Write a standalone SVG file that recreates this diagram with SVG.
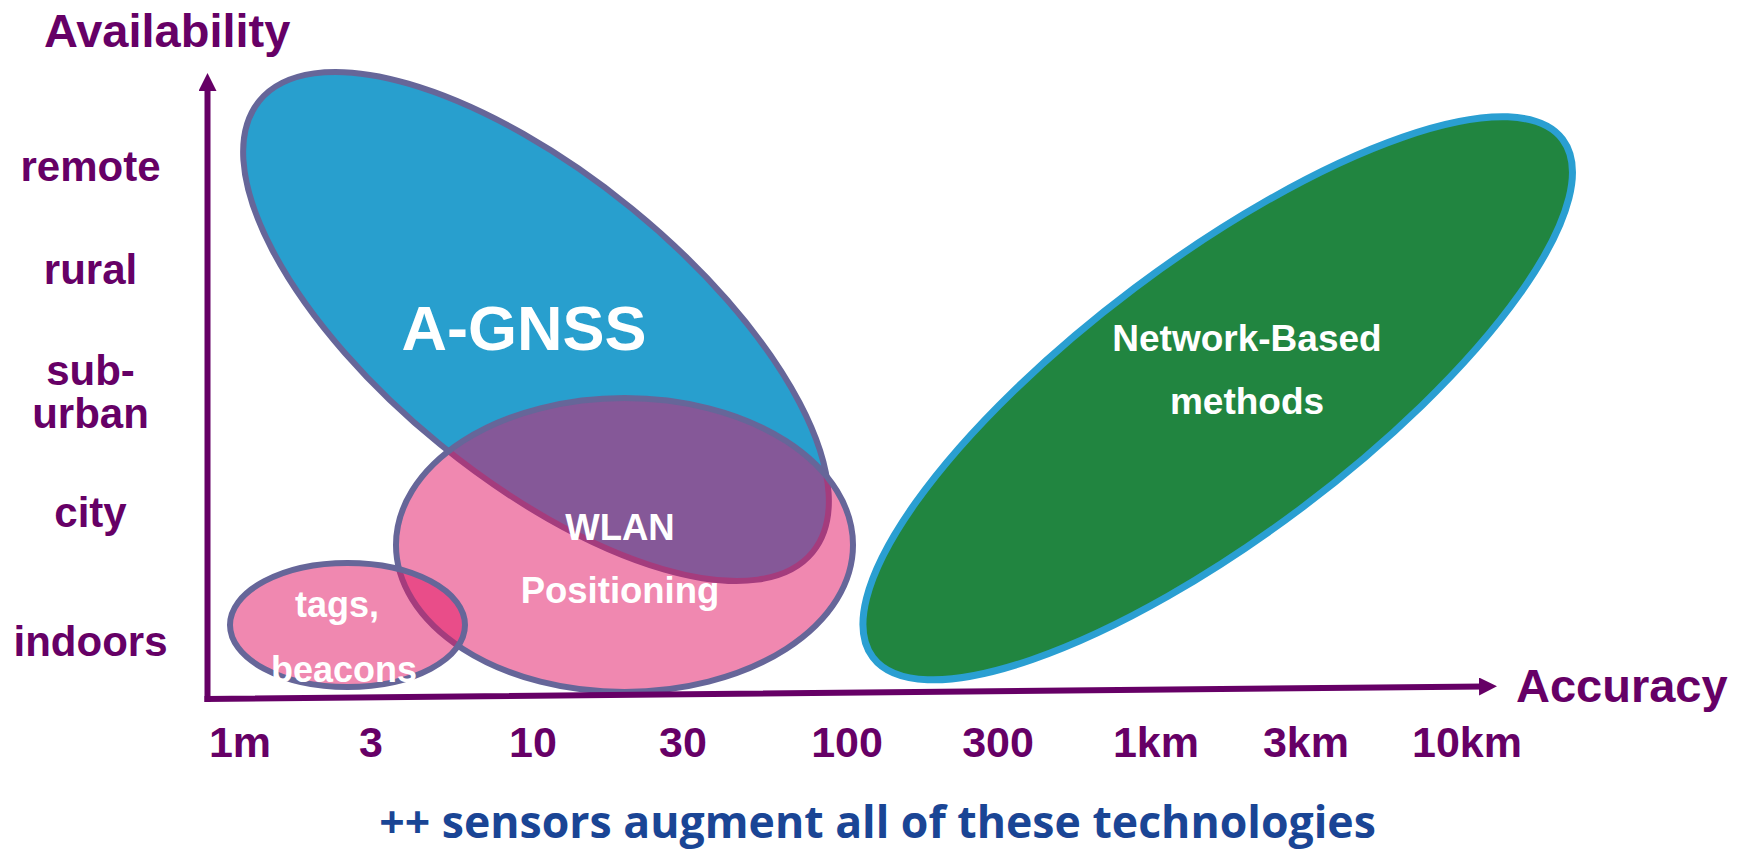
<svg xmlns="http://www.w3.org/2000/svg" width="1745" height="851" viewBox="0 0 1745 851">
  <style>
    .axis { fill: none; stroke: #660066; stroke-width: 6; stroke-linecap: square; }
    .axis-label { font-family: "Liberation Sans", Arial, sans-serif; font-weight: bold; fill: #660066; }
    .tick { font-size: 43px; text-anchor: middle; }
    .level { font-size: 42px; text-anchor: middle; }
    .title { font-size: 47px; }
    .inner { font-family: "Liberation Sans", Arial, sans-serif; font-weight: bold; fill: #ffffff; text-anchor: middle; }
    .zone { stroke: #666699; stroke-width: 6; }
    .overlay { fill: #e11161; fill-opacity: 0.5; }
    .note { font-family: "Open Sans", "Noto Sans", sans-serif; font-weight: bold; font-size: 44.6px; fill: #1a4595; text-anchor: middle; }
  </style>
  <defs>
    <marker id="arrowhead" markerUnits="userSpaceOnUse" viewBox="0 0 18 18" markerWidth="18" markerHeight="18" refX="2" refY="9" orient="auto">
      <path d="M0,0 L18,9 L0,18 Z" fill="#660066"/>
    </marker>
  </defs>

  <rect width="1745" height="851" fill="#ffffff"/>

  <!-- coverage regions -->
  <g id="network-based">
    <ellipse cx="1217.7" cy="398.3" rx="431.3" ry="138.1" transform="rotate(-36.9 1217.7 398.3)" fill="#218540" stroke="#2a9fd2" stroke-width="7"/>
    <text class="inner" x="1247" y="351" font-size="37">Network-Based</text>
    <text class="inner" x="1247" y="414" font-size="37">methods</text>
  </g>

  <g id="a-gnss">
    <ellipse class="zone" cx="536" cy="326.5" rx="357" ry="152" transform="rotate(39.2 536 326.5)" fill="#289fce"/>
    <text class="inner" x="524" y="350" font-size="63">A-GNSS</text>
  </g>

  <g id="wlan">
    <ellipse class="zone overlay" cx="624.5" cy="545" rx="228.5" ry="147"/>
    <text class="inner" x="620" y="540" font-size="36.5">WLAN</text>
    <text class="inner" x="620" y="603" font-size="36.5">Positioning</text>
  </g>

  <g id="tags-beacons">
    <ellipse class="zone overlay" cx="347.5" cy="625" rx="117.5" ry="62"/>
    <text class="inner" x="337" y="617" font-size="36">tags,</text>
    <text class="inner" x="344" y="682" font-size="36">beacons</text>
  </g>

  <!-- chart axes -->
  <g id="axes">
    <line class="axis" x1="207.5" y1="699" x2="207.5" y2="89" marker-end="url(#arrowhead)"/>
    <line class="axis" x1="207.5" y1="699" x2="1481" y2="686.5" marker-end="url(#arrowhead)"/>
  </g>

  <g id="y-axis-labels" class="axis-label">
    <text class="title" x="44" y="47">Availability</text>
    <text class="level" x="90.5" y="181">remote</text>
    <text class="level" x="90.5" y="284">rural</text>
    <text class="level" x="90.5" y="385">sub-</text>
    <text class="level" x="90.5" y="428">urban</text>
    <text class="level" x="90.5" y="527">city</text>
    <text class="level" x="90.5" y="656">indoors</text>
  </g>

  <g id="x-axis-labels" class="axis-label">
    <text class="title" x="1516" y="702">Accuracy</text>
    <text class="tick" x="240" y="757">1m</text>
    <text class="tick" x="371" y="757">3</text>
    <text class="tick" x="533" y="757">10</text>
    <text class="tick" x="683" y="757">30</text>
    <text class="tick" x="847" y="757">100</text>
    <text class="tick" x="998" y="757">300</text>
    <text class="tick" x="1156" y="757">1km</text>
    <text class="tick" x="1306" y="757">3km</text>
    <text class="tick" x="1467" y="757">10km</text>
  </g>

  <text id="footnote" class="note" x="877.5" y="838">++ sensors augment all of these technologies</text>
</svg>
